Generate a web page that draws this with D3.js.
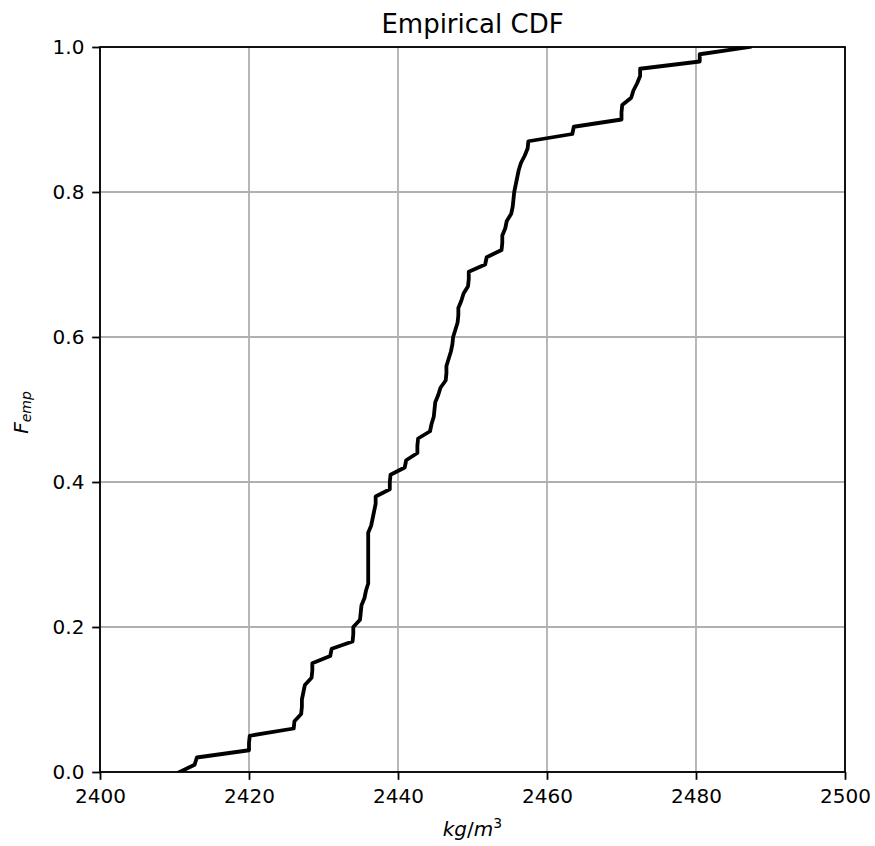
<!DOCTYPE html>
<html>
<head>
<meta charset="utf-8">
<script src="https://cdn.jsdelivr.net/npm/d3@7"></script>
<style>
  body { margin: 0; background: #fff; }
  svg { display: block; font-family: "DejaVu Sans", sans-serif; }
</style>
</head>
<body>
<svg id="chart" width="875" height="846"></svg>
<script>
// Sorted concrete density measurements (kg/m³)
const density = [
  2410.7, 2412.7, 2413.0, 2420.0, 2420.0, 2420.1, 2426.0, 2426.1, 2427.0, 2427.1,
  2427.1, 2427.3, 2427.5, 2428.4, 2428.5, 2428.5, 2430.9, 2431.1, 2433.9, 2434.0,
  2434.0, 2434.9, 2435.0, 2435.1, 2435.5, 2435.7, 2436.0, 2436.0, 2436.0, 2436.0,
  2436.0, 2436.0, 2436.0, 2436.0, 2436.4, 2436.6, 2436.8, 2437.0, 2437.0, 2438.9,
  2438.9, 2439.0, 2440.9, 2441.1, 2442.6, 2442.6, 2442.7, 2444.3, 2444.5, 2444.8,
  2444.9, 2445.0, 2445.4, 2445.7, 2446.4, 2446.5, 2446.5, 2446.8, 2447.1, 2447.3,
  2447.4, 2447.7, 2448.0, 2448.1, 2448.1, 2448.5, 2448.8, 2449.4, 2449.5, 2449.5,
  2451.7, 2451.9, 2453.9, 2454.0, 2454.0, 2454.4, 2454.6, 2455.2, 2455.4, 2455.5,
  2455.6, 2455.8, 2456.0, 2456.2, 2456.5, 2457.0, 2457.4, 2457.5, 2463.4, 2463.6,
  2470.0, 2470.0, 2470.1, 2471.3, 2471.6, 2472.1, 2472.5, 2472.5, 2480.5, 2480.5,
  2487.2
];
const xTicks = [2400, 2420, 2440, 2460, 2480, 2500];
const yTicks = [0.0, 0.2, 0.4, 0.6, 0.8, 1.0];
const xDomain = [2400, 2500];
const yDomain = [0, 1];

const W = 875, H = 846;
const margin = { top: 47, right: 30, bottom: 74, left: 100 };
const svg = d3.select("#chart");

const x = d3.scaleLinear().domain(xDomain).range([margin.left, W - margin.right]);
const y = d3.scaleLinear().domain(yDomain).range([H - margin.bottom, margin.top]);

// cumulative fraction of the sorted sample, rising from 0 to 1
const last = density.length - 1;
const ecdf = density.map((v, i) => ({ v, f: i / last }));

const tickLen = 7.8, tickPad = 7.8, fontSize = 20;

// grid
const grid = svg.append("g").attr("stroke", "#b0b0b0").attr("stroke-width", 1.8);
grid.selectAll(".gx").data(xTicks).join("line")
  .attr("x1", d => x(d)).attr("x2", d => x(d))
  .attr("y1", y.range()[0]).attr("y2", y.range()[1]);
grid.selectAll(".gy").data(yTicks).join("line")
  .attr("y1", d => y(d)).attr("y2", d => y(d))
  .attr("x1", x.range()[0]).attr("x2", x.range()[1]);

// ECDF line, clipped to the axes box
svg.append("clipPath").attr("id", "plotClip")
  .append("rect")
  .attr("x", x.range()[0]).attr("y", y.range()[1])
  .attr("width", x.range()[1] - x.range()[0])
  .attr("height", y.range()[0] - y.range()[1]);

svg.append("path")
  .datum(ecdf)
  .attr("clip-path", "url(#plotClip)")
  .attr("fill", "none")
  .attr("stroke", "#000")
  .attr("stroke-width", 3.8)
  .attr("stroke-linejoin", "round")
  .attr("stroke-linecap", "square")
  .attr("d", d3.line().x(d => x(d.v)).y(d => y(d.f)));

// axes
const xAxis = svg.append("g")
  .attr("transform", `translate(0,${y.range()[0]})`)
  .call(d3.axisBottom(x).tickValues(xTicks).tickFormat(d3.format("d"))
    .tickSize(tickLen).tickSizeOuter(0).tickPadding(tickPad + 1.5));
const yAxis = svg.append("g")
  .attr("transform", `translate(${x.range()[0]},0)`)
  .call(d3.axisLeft(y).tickValues(yTicks).tickFormat(d3.format(".1f"))
    .tickSize(tickLen).tickSizeOuter(0).tickPadding(tickPad));

[xAxis, yAxis].forEach(g => {
  g.select(".domain").remove();
  g.selectAll(".tick line").attr("stroke", "#000").attr("stroke-width", 1.8);
  g.selectAll(".tick text")
    .attr("fill", "#000")
    .style("font-family", "'DejaVu Sans', sans-serif")
    .style("font-size", fontSize + "px");
});
yAxis.selectAll(".tick text").attr("dy", "0.34em");

// spines
svg.append("rect")
  .attr("x", x.range()[0]).attr("y", y.range()[1])
  .attr("width", x.range()[1] - x.range()[0])
  .attr("height", y.range()[0] - y.range()[1])
  .attr("fill", "none").attr("stroke", "#000").attr("stroke-width", 1.8);

// title
svg.append("text")
  .attr("x", (x.range()[0] + x.range()[1]) / 2)
  .attr("y", 33)
  .attr("text-anchor", "middle")
  .attr("fill", "#000")
  .style("font-size", "26px")
  .text("Empirical CDF");

// x label: kg/m³
const xl = svg.append("text")
  .attr("x", (x.range()[0] + x.range()[1]) / 2)
  .attr("y", 836)
  .attr("text-anchor", "middle")
  .attr("fill", "#000")
  .style("font-size", fontSize + "px");
xl.append("tspan").style("font-style", "italic").text("kg");
xl.append("tspan").text("/");
xl.append("tspan").style("font-style", "italic").text("m");
xl.append("tspan").attr("dy", -8).style("font-size", "14px").text("3");

// y label: F_emp
const yl = svg.append("text")
  .attr("transform", `translate(28,${(y.range()[0] + y.range()[1]) / 2 + 3}) rotate(-90)`)
  .attr("text-anchor", "middle")
  .attr("fill", "#000")
  .style("font-size", fontSize + "px");
yl.append("tspan").style("font-style", "italic").text("F");
yl.append("tspan").attr("dy", 3).style("font-style", "italic").style("font-size", "14px").text("emp");
</script>
</body>
</html>
